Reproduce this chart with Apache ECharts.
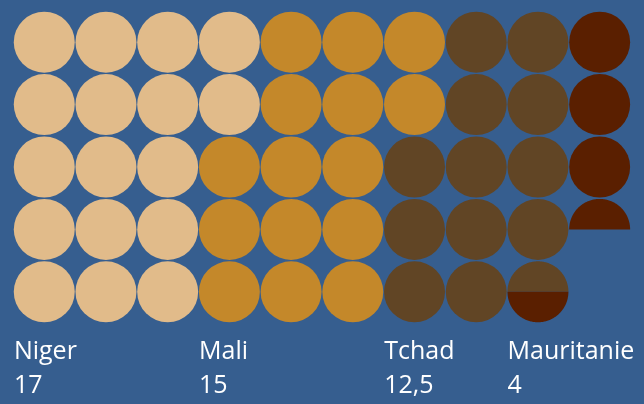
<!DOCTYPE html>
<html>
<head>
<meta charset="utf-8">
<script src="https://cdn.jsdelivr.net/npm/echarts@6/dist/echarts.min.js"></script>
<style>
html,body{margin:0;padding:0;background:#365e8f;}
#chart{width:644px;height:404px;}
</style>
</head>
<body>
<div id="chart"></div>
<script>
const categories = ['Niger', 'Mali', 'Tchad', 'Mauritanie'];
const values = [17, 15, 12.5, 4];
const valueLabels = ['17', '15', '12,5', '4'];
const colors = ['#e1bb8a', '#c4882a', '#614525', '#5a1f00'];
const gridColumns = 10;
const gridRows = 5;

// build waffle cells (filled column by column, top to bottom)
const cells = [];
const labelData = [];
let cum = 0;
values.forEach(function (v, i) {
  const start = cum, end = cum + v;
  labelData.push([Math.floor(start / gridRows), i]);
  for (let k = Math.floor(start); k < Math.ceil(end); k++) {
    const f0 = Math.max(start, k) - k;
    const f1 = Math.min(end, k + 1) - k;
    cells.push([Math.floor(k / gridRows), k % gridRows, f0, f1, i]);
  }
  cum = end;
});

function bandPolygon(cx, cy, r, yt, yb) {
  const pts = [];
  const N = 240;
  for (let j = 0; j < N; j++) {
    const t = (j / N) * Math.PI * 2;
    let x = cx + r * Math.cos(t);
    let y = cy + r * Math.sin(t);
    if (y < yt || y > yb) {
      const yc = y < yt ? yt : yb;
      const hw = Math.sqrt(Math.max(0, r * r - (yc - cy) * (yc - cy)));
      y = yc;
      x = Math.min(cx + hw, Math.max(cx - hw, x));
    }
    pts.push([x, y]);
  }
  return pts;
}

const chart = echarts.init(document.getElementById('chart'));
chart.setOption({
  backgroundColor: '#365e8f',
  animation: false,
  grid: { left: 13.4, right: 13.5, top: 11, bottom: 81 },
  xAxis: { type: 'value', min: -0.5, max: gridColumns - 0.5, show: false },
  yAxis: { type: 'value', inverse: true, min: -0.5, max: gridRows - 0.5, show: false },
  series: [
    {
      type: 'custom',
      data: cells,
      clip: false,
      renderItem: function (params, api) {
        const c = api.coord([api.value(0), api.value(1)]);
        const s = api.size([1, 1]);
        const r = s[0] * 0.494;
        const f0 = api.value(2), f1 = api.value(3);
        const color = colors[api.value(4)];
        if (f0 <= 0 && f1 >= 1) {
          return { type: 'circle', shape: { cx: c[0], cy: c[1], r: r }, style: { fill: color } };
        }
        const yt = c[1] - r + f0 * 2 * r;
        const yb = c[1] - r + f1 * 2 * r;
        return { type: 'polygon', shape: { points: bandPolygon(c[0], c[1], r, yt, yb) }, style: { fill: color } };
      }
    },
    {
      type: 'custom',
      data: labelData,
      clip: false,
      renderItem: function (params, api) {
        const i = api.value(1);
        const p = api.coord([api.value(0) - 0.5, gridRows - 0.5]);
        const base = { fill: '#ffffff', fontSize: 25, fontFamily: '"Open Sans", sans-serif', align: 'left', verticalAlign: 'middle' };
        return {
          type: 'group',
          children: [
            { type: 'text', style: Object.assign({}, base, { text: categories[i], x: p[0] + 0.5, y: p[1] + 29 }) },
            { type: 'text', style: Object.assign({}, base, { text: valueLabels[i], x: p[0] + 0.5, y: p[1] + 62.5 }) }
          ]
        };
      }
    }
  ]
});
</script>
</body>
</html>
